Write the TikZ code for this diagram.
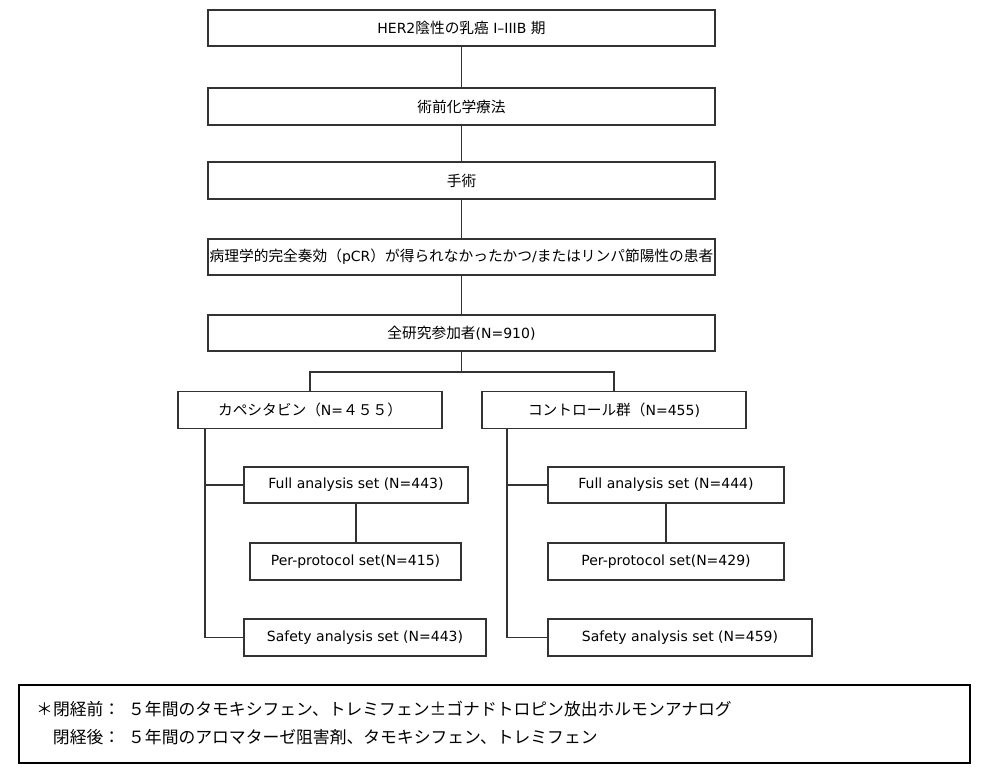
\documentclass[tikz,border=0pt]{standalone}
\usepackage{fontspec}
\setmainfont{DejaVu Sans}
\newfontfamily\jp{Noto Sans CJK JP}[Scale=1.05]
\begin{document}
\begin{tikzpicture}[x=1pt,y=-1pt,
  box/.style={draw=black!80, line width=1.1pt, inner sep=0pt, align=center,
              font=\fontsize{14}{16}\selectfont},
  link/.style={draw=black!80, line width=1.1pt}]
\useasboundingbox (0,0) rectangle (988,773);

\node[box, minimum width=507, minimum height=36] (b1) at (461.5,28) {HER2{\jp 陰性の乳癌} I–IIIB {\jp 期}};
\node[box, minimum width=507, minimum height=37] (b2) at (461.5,106.5) {{\jp 術前化学療法}};
\node[box, minimum width=507, minimum height=37] (b3) at (461.5,180.5) {{\jp 手術}};
\node[box, minimum width=507, minimum height=36] (b4) at (461.5,257) {{\jp 病理学的完全奏効（}pCR{\jp ）が得られなかったかつ}/{\jp またはリンパ節陽性の患者}};
\node[box, minimum width=507, minimum height=36] (b5) at (461.5,333) {{\jp 全研究参加者}(N=910)};

\node[box, minimum width=264, minimum height=37] (cap) at (310,410) {{\jp カペシタビン（}N={\jp ４５５）}};
\node[box, minimum width=264, minimum height=37] (ctl) at (614,410) {{\jp コントロール群（}N=455)};

\node[box, minimum width=224, minimum height=36] (fasL) at (356,485) {Full analysis set (N=443)};
\node[box, minimum width=211, minimum height=37] (ppsL) at (355.5,561.5) {Per-protocol set(N=415)};
\node[box, minimum width=242, minimum height=37] (safL) at (365,637.5) {Safety analysis set (N=443)};

\node[box, minimum width=236, minimum height=36] (fasR) at (666,485) {Full analysis set (N=444)};
\node[box, minimum width=236, minimum height=37] (ppsR) at (666,561.5) {Per-protocol set(N=429)};
\node[box, minimum width=264, minimum height=37] (safR) at (680,637.5) {Safety analysis set (N=459)};

\coordinate (bus) at (461.5,372);
\coordinate (tL) at (205,0);
\coordinate (tR) at (507,0);

\draw[link] (b1) -- (b2);
\draw[link] (b2) -- (b3);
\draw[link] (b3) -- (b4);
\draw[link] (b4) -- (b5);
\draw[link] (b5.south) -- (bus);
\draw[link] (bus) -| (cap.north);
\draw[link] (bus) -| (ctl.north);

\draw[link] (tL |- cap.south) |- (safL.west);
\draw[link] (tL |- fasL.west) -- (fasL.west);
\draw[link] (fasL) -- (fasL |- ppsL.north);

\draw[link] (tR |- ctl.south) |- (safR.west);
\draw[link] (tR |- fasR.west) -- (fasR.west);
\draw[link] (fasR) -- (fasR |- ppsR.north);

\node[draw=black, line width=2.4pt, minimum width=951, minimum height=78, inner sep=0pt] (note) at (494.5,724) {};
\node[anchor=west, inner sep=0pt, font=\jp\fontsize{16}{28}\selectfont] (notetext) at (36,723.5)
 {\begin{tabular}{@{}r@{\hspace{8pt}}l@{}}
  ＊閉経前： & ５年間のタモキシフェン、トレミフェン±ゴナドトロピン放出ホルモンアナログ\\
  閉経後： & ５年間のアロマターゼ阻害剤、タモキシフェン、トレミフェン
  \end{tabular}};
\end{tikzpicture}
\end{document}
